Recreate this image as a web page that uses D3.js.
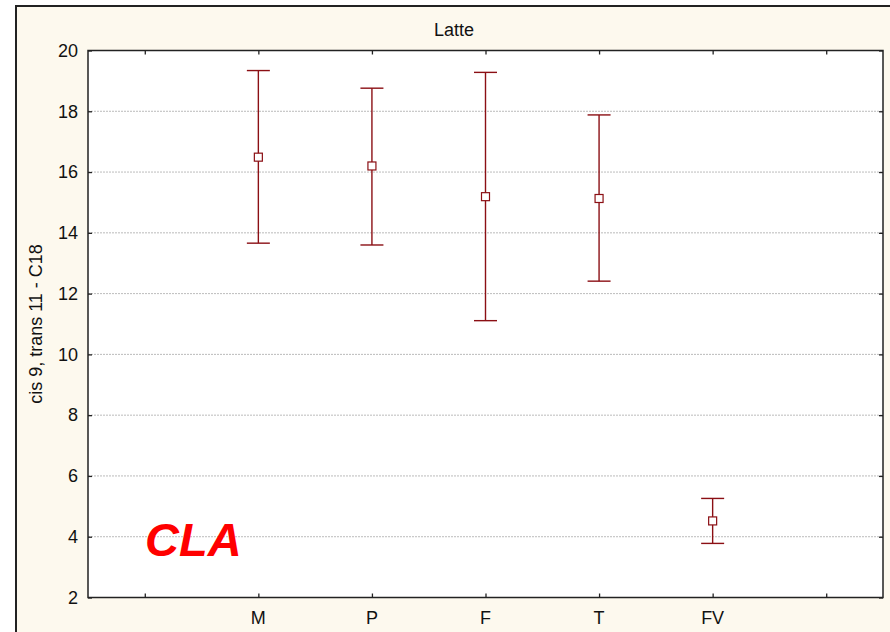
<!DOCTYPE html>
<meta charset="utf-8">
<script src="https://d3js.org/d3.v7.min.js"></script>
<style>
  body { margin: 0; background: #fff; }
  text { font-family: "Liberation Sans", Arial, sans-serif; }
</style>
<div id="chart"></div>
<script>

// groups on the x axis (blank slots at both ends, like the original)
const groups = ["", "M", "P", "F", "T", "FV", " "];
const cats = ["M", "P", "F", "T", "FV"];
const means = [16.49, 16.2, 15.19, 15.13, 4.52];
const upper = [19.34, 18.76, 19.28, 17.88, 5.26];
const lower = [13.66, 13.6, 11.11, 12.41, 3.78];
const yTicks = [2, 4, 6, 8, 10, 12, 14, 16, 18, 20];

const width = 890, height = 632;
const plot = {left: 88, top: 50.5, right: 883, bottom: 597.5};
const red = "#8b0f14";
const fontSize = "18px";

const svg = d3.select("#chart").append("svg")
  .attr("width", width)
  .attr("height", height);

// cream frame
svg.append("rect")
  .attr("x", 16).attr("y", 6)
  .attr("width", width - 16 + 5).attr("height", height)
  .attr("fill", "#fdf9ee")
  .attr("stroke", "#222").attr("stroke-width", 2);

const x = d3.scalePoint()
  .domain(groups)
  .range([plot.left, plot.right])
  .padding(0.5);

const y = d3.scaleLinear()
  .domain([2, 20])
  .range([plot.bottom, plot.top]);

// plot background
svg.append("rect")
  .attr("x", plot.left).attr("y", plot.top)
  .attr("width", plot.right - plot.left).attr("height", plot.bottom - plot.top)
  .attr("fill", "#fff");

// grid lines
svg.append("g")
  .selectAll("line")
  .data(yTicks.filter(d => d > 2 && d < 20))
  .join("line")
    .attr("x1", plot.left).attr("x2", plot.right)
    .attr("y1", d => y(d)).attr("y2", d => y(d))
    .attr("stroke", "#aaa")
    .attr("stroke-width", 0.8)
    .attr("stroke-dasharray", "2,1");

// axes, ticks pointing inward
function styleAxis(g) {
  g.select(".domain").remove();
  g.selectAll("line").attr("stroke", "#222").attr("stroke-width", 1.3);
}

svg.append("g")
  .attr("transform", `translate(${plot.left},0)`)
  .call(d3.axisRight(y).tickValues(yTicks).tickSize(4).tickFormat(""))
  .call(styleAxis);
svg.append("g")
  .attr("transform", `translate(${plot.right},0)`)
  .call(d3.axisLeft(y).tickValues(yTicks).tickSize(4).tickFormat(""))
  .call(styleAxis);
svg.append("g")
  .attr("transform", `translate(0,${plot.top})`)
  .call(d3.axisBottom(x).tickSize(4).tickFormat(""))
  .call(styleAxis);
svg.append("g")
  .attr("transform", `translate(0,${plot.bottom})`)
  .call(d3.axisTop(x).tickSize(4).tickFormat(""))
  .call(styleAxis);

// tick labels
svg.append("g")
  .selectAll("text")
  .data(yTicks)
  .join("text")
    .attr("x", plot.left - 10)
    .attr("y", d => y(d))
    .attr("dy", "0.35em")
    .attr("text-anchor", "end")
    .style("font-size", fontSize)
    .attr("fill", "#111")
    .text(d => d);

svg.append("g")
  .selectAll("text")
  .data(cats)
  .join("text")
    .attr("x", d => x(d))
    .attr("y", 624)
    .attr("text-anchor", "middle")
    .style("font-size", fontSize)
    .attr("fill", "#111")
    .text(d => d);

// frame of plot
svg.append("rect")
  .attr("x", plot.left).attr("y", plot.top)
  .attr("width", plot.right - plot.left).attr("height", plot.bottom - plot.top)
  .attr("fill", "none")
  .attr("stroke", "#222").attr("stroke-width", 1.5);

// error bars
const bars = svg.append("g")
  .selectAll("g")
  .data(cats.map((c, i) => ({c, m: means[i], hi: upper[i], lo: lower[i]})))
  .join("g")
    .attr("stroke", red)
    .attr("stroke-width", 1.4)
    .attr("fill", "#fff");

bars.append("line")
  .attr("x1", d => x(d.c)).attr("x2", d => x(d.c))
  .attr("y1", d => y(d.hi)).attr("y2", d => y(d.lo));
bars.append("line")
  .attr("x1", d => x(d.c) - 11.5).attr("x2", d => x(d.c) + 11.5)
  .attr("y1", d => y(d.hi)).attr("y2", d => y(d.hi));
bars.append("line")
  .attr("x1", d => x(d.c) - 11.5).attr("x2", d => x(d.c) + 11.5)
  .attr("y1", d => y(d.lo)).attr("y2", d => y(d.lo));
bars.append("rect")
  .attr("x", d => x(d.c) - 4).attr("y", d => y(d.m) - 4)
  .attr("width", 8).attr("height", 8)
  .attr("stroke-width", 1.2);

// title and labels
svg.append("text")
  .attr("x", 454).attr("y", 36)
  .attr("text-anchor", "middle")
  .style("font-size", fontSize)
  .attr("fill", "#111")
  .text("Latte");

svg.append("text")
  .attr("transform", `translate(42,${(plot.top + plot.bottom) / 2}) rotate(-90)`)
  .attr("text-anchor", "middle")
  .style("font-size", fontSize)
  .attr("fill", "#111")
  .text("cis 9, trans 11 - C18");

svg.append("text")
  .attr("x", 145).attr("y", 556)
  .style("font-size", "47px")
  .style("font-weight", "bold")
  .style("font-style", "italic")
  .attr("fill", "#ff0000")
  .text("CLA");
</script>
